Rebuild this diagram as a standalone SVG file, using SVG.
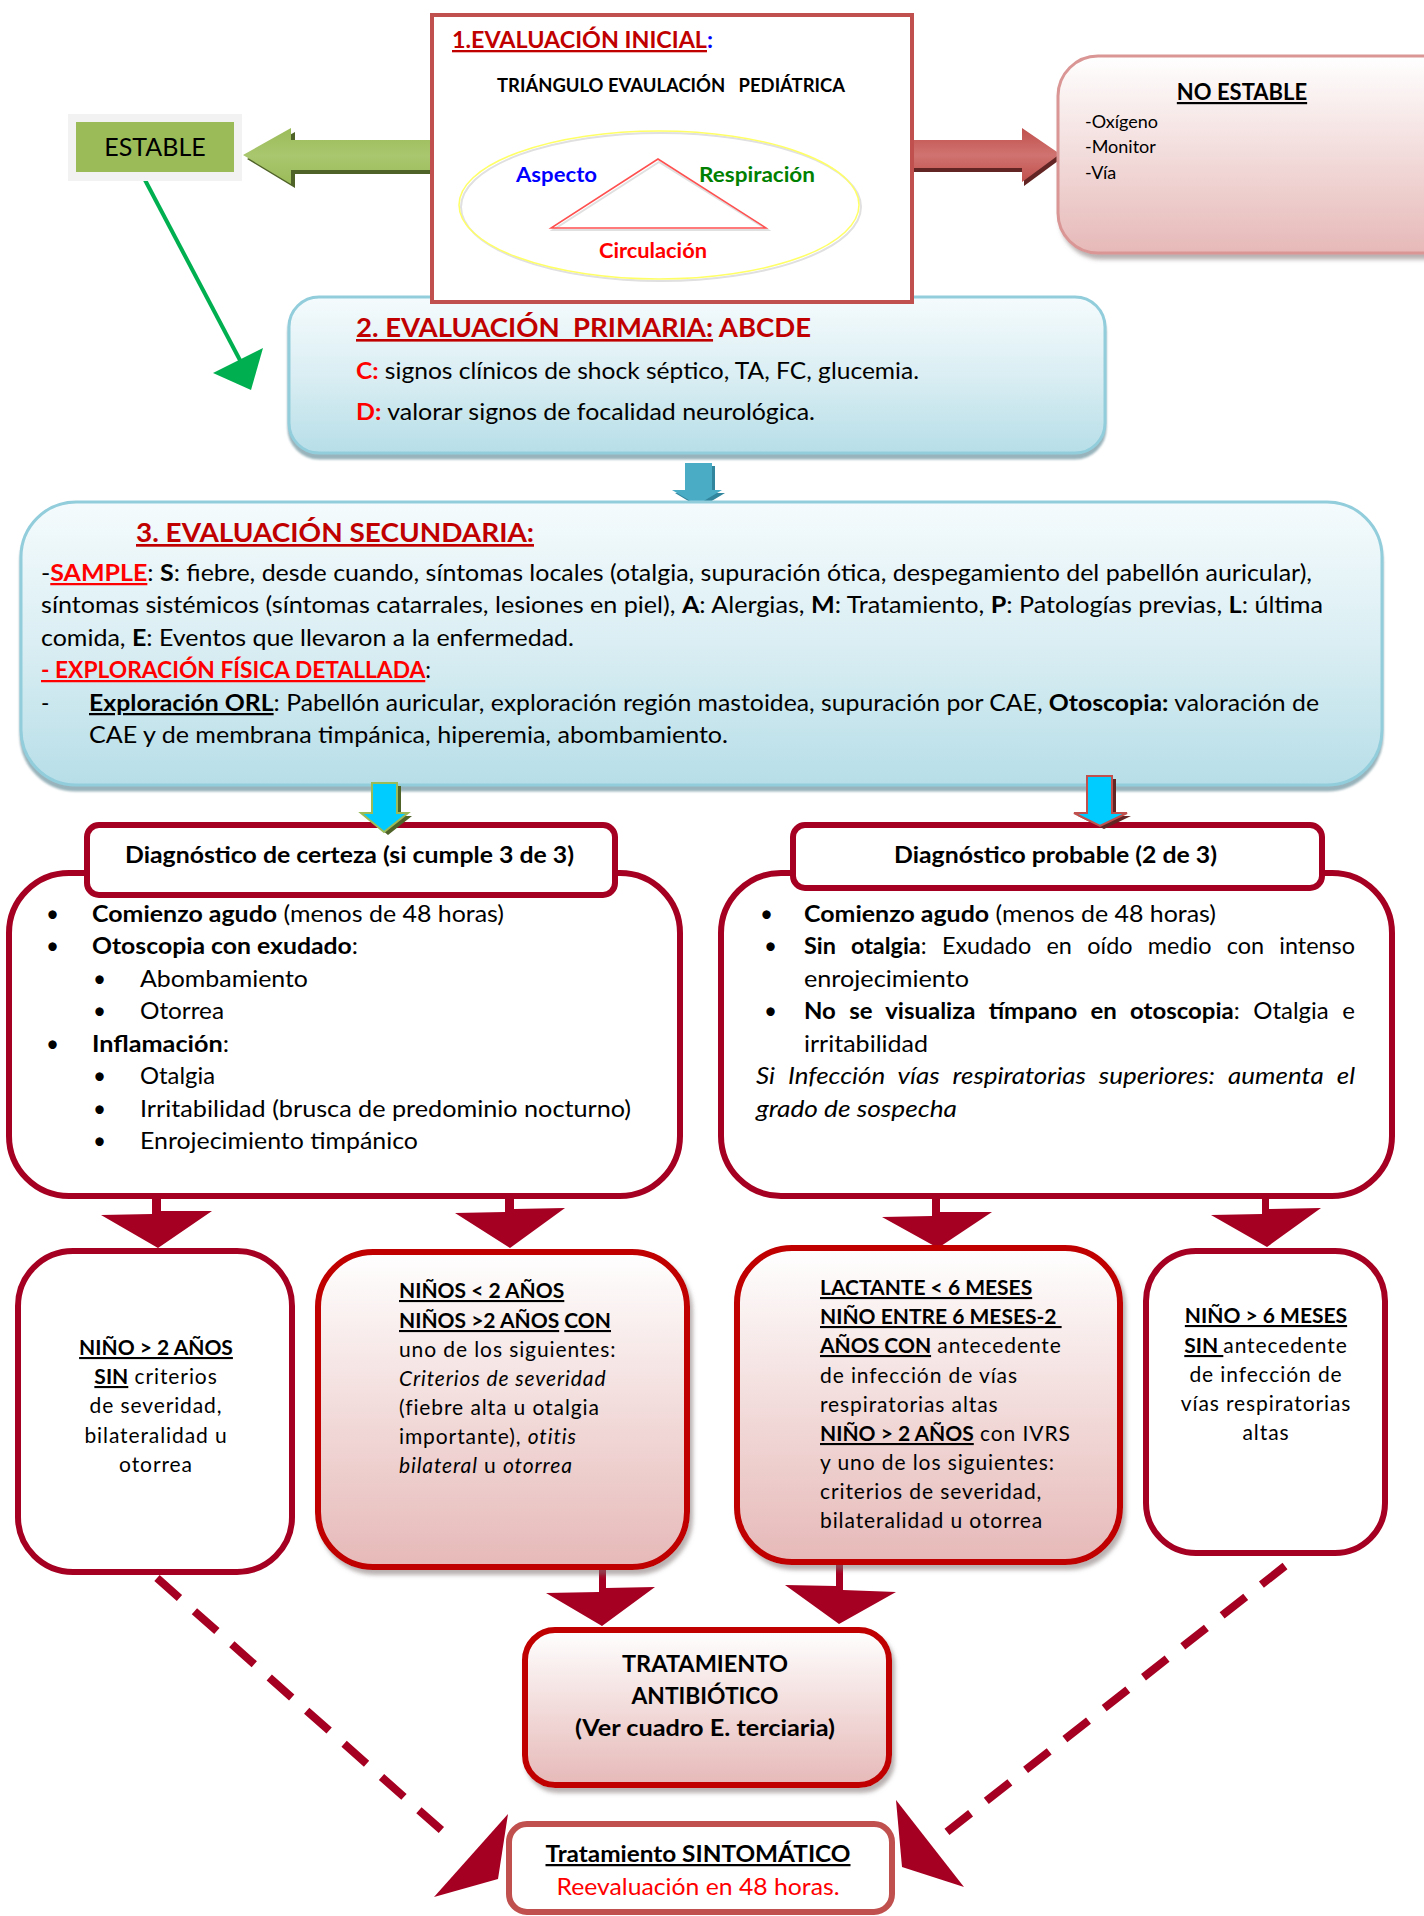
<svg xmlns="http://www.w3.org/2000/svg" width="1424" height="1916" viewBox="0 0 1424 1916">
<defs>
<style>
.t{font-family:Lato,'Liberation Sans',sans-serif;fill:#000}
.b{font-weight:bold}
.i{font-style:italic}
.u{text-decoration:underline}
.dr{fill:#C00000}
.rd{fill:#FF0000}
.f22{font-size:22.5px}
.f20{font-size:21px;letter-spacing:0.9px}
.f20 .b{letter-spacing:0}
.mid{text-anchor:middle}
.darr{fill:#A50021}
.wbox{fill:#FFFFFF;stroke:#A50021;stroke-width:6}
.pbox{fill:url(#pink);stroke:#C00000;stroke-width:6;filter:url(#sh)}
.bbox{fill:url(#blue);stroke:#92CDDC;stroke-width:3;filter:url(#shb)}
.dash{stroke:#A50021;stroke-width:8;stroke-dasharray:30 20;fill:none}
</style>
<linearGradient id="pink" x1="0" y1="0" x2="0" y2="1">
<stop offset="0" stop-color="#FFFFFF"/><stop offset="0.5" stop-color="#F2DCDB"/><stop offset="1" stop-color="#E6B9B8"/>
</linearGradient>
<linearGradient id="blue" x1="0" y1="0" x2="0" y2="1">
<stop offset="0" stop-color="#F5FBFD"/><stop offset="0.5" stop-color="#DAEEF3"/><stop offset="1" stop-color="#B7DEE8"/>
</linearGradient>
<linearGradient id="grn" x1="0" y1="0" x2="0" y2="1">
<stop offset="0" stop-color="#9BBB59"/><stop offset="0.5" stop-color="#A9C76E"/><stop offset="1" stop-color="#9BBB59"/>
</linearGradient>
<linearGradient id="redar" x1="0" y1="0" x2="0" y2="1">
<stop offset="0" stop-color="#C0504D"/><stop offset="0.5" stop-color="#D07370"/><stop offset="1" stop-color="#C0504D"/>
</linearGradient>
<filter id="sh" x="-10%" y="-10%" width="130%" height="130%">
<feDropShadow dx="3" dy="5" stdDeviation="2" flood-color="#7F6F6F" flood-opacity="0.55"/>
</filter>
<filter id="shb" x="-10%" y="-10%" width="130%" height="130%">
<feDropShadow dx="0" dy="5" stdDeviation="1" flood-color="#7FA0AA" flood-opacity="0.8"/>
</filter>
</defs>
<rect width="1424" height="1916" fill="#FFFFFF"/>

<!-- connectors -->
<g id="connectors">
  <polygon points="433,144 295,144 295,132 247,159 295,188 295,174 433,174" fill="#4F6228"/>
  <polygon points="433,140 291,140 291,128 243,155 291,184 291,170 433,170" fill="url(#grn)"/>
  <polygon points="911,144 1024,144 1024,132 1062,158 1024,186 1024,172 911,172" fill="#632523"/>
  <polygon points="911,140 1022,140 1022,128 1060,154 1022,182 1022,168 911,168" fill="url(#redar)"/>
  <line x1="145" y1="180" x2="242" y2="364" stroke="#00B050" stroke-width="4"/>
  <polygon points="213,373 263,348 251,390" fill="#00B050"/>
  <polygon points="688,466 715,466 715,493 725,493 700,508 675,493 688,493" fill="#31859C"/>
  <polygon points="685,463 712,463 712,490 722,490 697,505 672,490 685,490" fill="#4BACC6"/>
  <polygon class="darr" points="152,1196 161,1196 161,1211 212,1211 158,1248 101,1215 152,1214"/>
  <polygon class="darr" points="505,1196 514,1196 514,1209 565,1208 510,1248 455,1213 505,1212"/>
  <polygon class="darr" points="932,1196 940,1196 940,1212 992,1212 938,1248 882,1217 932,1216"/>
  <polygon class="darr" points="1262,1196 1269,1196 1269,1209 1321,1208 1267,1247 1211,1215 1262,1214"/>
  <polygon class="darr" points="599,1566 606,1566 606,1588 655,1587 602,1626 546,1593 599,1592"/>
  <polygon class="darr" points="836,1562 843,1562 843,1590 896,1592 839,1624 785,1585 836,1586"/>
  <line class="dash" x1="157" y1="1578" x2="456" y2="1843"/>
  <line class="dash" x1="1285" y1="1566" x2="934" y2="1842"/>
  <polygon class="darr" points="508,1814 498,1879 434,1897"/>
  <polygon class="darr" points="896,1800 902,1867 964,1887"/>
</g>

<g id="estable">
  <rect x="68" y="114" width="174" height="67" fill="#F2F2F2"/>
  <rect x="76" y="122" width="158" height="50" fill="#9BBB59"/>
  <text x="155" y="156" class="t mid" style="font-size:25px">ESTABLE</text>
</g>

<g id="no-estable">
  <rect x="1058" y="56" width="420" height="197" rx="40" fill="url(#pink)" stroke="#D99694" stroke-width="3" filter="url(#sh)"/>
  <text x="1242" y="100" class="t b u mid" style="font-size:22px">NO ESTABLE</text>
  <text x="1085" y="128" class="t" style="font-size:18px">-Oxígeno</text>
  <text x="1085" y="153" class="t" style="font-size:18px">-Monitor</text>
  <text x="1085" y="179" class="t" style="font-size:18px">-Vía</text>
</g>

<g id="evaluacion-primaria">
  <rect x="289" y="297" width="816" height="156" rx="30" class="bbox"/>
  <text x="356" y="337" class="t b dr" style="font-size:26px" textLength="455" lengthAdjust="spacingAndGlyphs" xml:space="preserve"><tspan class="u">2. EVALUACIÓN  PRIMARIA:</tspan> ABCDE</text>
  <text x="356" y="379" class="t f22" textLength="563" lengthAdjust="spacingAndGlyphs"><tspan class="b rd">C:</tspan> signos clínicos de shock séptico, TA, FC, glucemia.</text>
  <text x="356" y="420" class="t f22" textLength="459" lengthAdjust="spacingAndGlyphs"><tspan class="b rd">D:</tspan> valorar signos de focalidad neurológica.</text>
</g>

<g id="evaluacion-inicial">
  <rect x="432" y="15" width="480" height="287" fill="#FFFFFF" stroke="#C0504D" stroke-width="4"/>
  <text x="452" y="48" class="t b" style="font-size:23px" textLength="261" lengthAdjust="spacingAndGlyphs"><tspan class="u dr">1.EVALUACIÓN INICIAL</tspan><tspan style="fill:#0000FF">:</tspan></text>
  <text x="497" y="92" class="t b" style="font-size:18px" textLength="348" lengthAdjust="spacingAndGlyphs" xml:space="preserve">TRIÁNGULO EVAULACIÓN   PEDIÁTRICA</text>
  <ellipse cx="661" cy="207" rx="200" ry="74" fill="none" stroke="#E0E0E0" stroke-width="2"/>
  <ellipse cx="659" cy="205" rx="200" ry="74" fill="none" stroke="#FFFF66" stroke-width="1.5"/>
  <polygon points="659,162 553,230 768,230" fill="none" stroke="#E0E0E0" stroke-width="2"/>
  <polygon points="658,159 551,228 766,228" fill="none" stroke="#FF5050" stroke-width="1.5"/>
  <text x="516" y="182" class="t b" style="font-size:20.5px;fill:#0000FF" textLength="81" lengthAdjust="spacingAndGlyphs">Aspecto</text>
  <text x="699" y="182" class="t b" style="font-size:20.5px;fill:#008000" textLength="116" lengthAdjust="spacingAndGlyphs">Respiración</text>
  <text x="599" y="258" class="t b" style="font-size:20.5px;fill:#FF0000" textLength="108" lengthAdjust="spacingAndGlyphs">Circulación</text>
</g>

<g id="evaluacion-secundaria">
  <rect x="21" y="502" width="1361" height="283" rx="55" class="bbox"/>
  <text x="136" y="542" class="t b u dr" style="font-size:27px" textLength="398" lengthAdjust="spacingAndGlyphs">3. EVALUACIÓN SECUNDARIA:</text>
  <text x="41" y="581" class="t f22" textLength="1271" lengthAdjust="spacingAndGlyphs">-<tspan class="b u rd">SAMPLE</tspan>: <tspan class="b">S</tspan>: fiebre, desde cuando, síntomas locales (otalgia, supuración ótica, despegamiento del pabellón auricular),</text>
  <text x="41" y="613" class="t f22" textLength="1282" lengthAdjust="spacingAndGlyphs">síntomas sistémicos (síntomas catarrales, lesiones en piel), <tspan class="b">A</tspan>: Alergias, <tspan class="b">M</tspan>: Tratamiento, <tspan class="b">P</tspan>: Patologías previas, <tspan class="b">L</tspan>: última</text>
  <text x="41" y="646" class="t f22" textLength="533" lengthAdjust="spacingAndGlyphs">comida, <tspan class="b">E</tspan>: Eventos que llevaron a la enfermedad.</text>
  <text x="41" y="678" class="t f22" textLength="390" lengthAdjust="spacingAndGlyphs"><tspan class="b u rd">- EXPLORACIÓN FÍSICA DETALLADA</tspan>:</text>
  <text x="41" y="711" class="t f22">-</text>
  <text x="89" y="711" class="t f22" textLength="1230" lengthAdjust="spacingAndGlyphs"><tspan class="b u">Exploración ORL</tspan>: Pabellón auricular, exploración región mastoidea, supuración por CAE, <tspan class="b">Otoscopia:</tspan> valoración de</text>
  <text x="89" y="743" class="t f22" textLength="639" lengthAdjust="spacingAndGlyphs">CAE y de membrana timpánica, hiperemia, abombamiento.</text>
</g>

<g id="diagnostico-certeza">
  <rect x="9" y="873" width="671" height="323" rx="60" class="wbox"/>
  <rect x="87" y="825" width="528" height="70" rx="12" class="wbox"/>
  <text x="125" y="863" class="t b f22" textLength="449" lengthAdjust="spacingAndGlyphs">Diagnóstico de certeza (si cumple 3 de 3)</text>
  <g class="t f22">
    <text x="46" y="922">•</text><text x="92" y="922" textLength="412" lengthAdjust="spacingAndGlyphs"><tspan class="b">Comienzo agudo</tspan> (menos de 48 horas)</text>
    <text x="46" y="954">•</text><text x="92" y="954" textLength="266" lengthAdjust="spacingAndGlyphs"><tspan class="b">Otoscopia con exudado</tspan>:</text>
    <text x="93" y="987">•</text><text x="140" y="987" textLength="168" lengthAdjust="spacingAndGlyphs">Abombamiento</text>
    <text x="93" y="1019">•</text><text x="140" y="1019" textLength="84" lengthAdjust="spacingAndGlyphs">Otorrea</text>
    <text x="46" y="1052">•</text><text x="92" y="1052" textLength="137" lengthAdjust="spacingAndGlyphs"><tspan class="b">Inflamación</tspan>:</text>
    <text x="93" y="1084">•</text><text x="140" y="1084" textLength="75" lengthAdjust="spacingAndGlyphs">Otalgia</text>
    <text x="93" y="1117">•</text><text x="140" y="1117" textLength="491" lengthAdjust="spacingAndGlyphs">Irritabilidad (brusca de predominio nocturno)</text>
    <text x="93" y="1149">•</text><text x="140" y="1149" textLength="278" lengthAdjust="spacingAndGlyphs">Enrojecimiento timpánico</text>
  </g>
</g>

<g id="diagnostico-probable">
  <rect x="721" y="873" width="671" height="323" rx="60" class="wbox"/>
  <rect x="793" y="825" width="529" height="63" rx="12" class="wbox"/>
  <text x="894" y="863" class="t b f22" textLength="323" lengthAdjust="spacingAndGlyphs">Diagnóstico probable (2 de 3)</text>
  <g class="t f22">
    <text x="760" y="922">•</text><text x="804" y="922" textLength="412" lengthAdjust="spacingAndGlyphs"><tspan class="b">Comienzo agudo</tspan> (menos de 48 horas)</text>
    <text x="764" y="954">•</text><text x="804" y="954" style="word-spacing:9px" textLength="551" lengthAdjust="spacingAndGlyphs"><tspan class="b">Sin otalgia</tspan>: Exudado en oído medio con intenso</text>
    <text x="804" y="987" textLength="165" lengthAdjust="spacingAndGlyphs">enrojecimiento</text>
    <text x="764" y="1019">•</text><text x="804" y="1019" style="word-spacing:7px" textLength="551" lengthAdjust="spacingAndGlyphs"><tspan class="b">No se visualiza tímpano en otoscopia</tspan>: Otalgia e</text>
    <text x="804" y="1052" textLength="124" lengthAdjust="spacingAndGlyphs">irritabilidad</text>
    <text x="756" y="1084" class="i" style="word-spacing:6px" textLength="599" lengthAdjust="spacingAndGlyphs">Si Infección vías respiratorias superiores: aumenta el</text>
    <text x="756" y="1117" class="i" textLength="201" lengthAdjust="spacingAndGlyphs">grado de sospecha</text>
  </g>
</g>

<g id="nino-mayor-2-sin">
  <rect x="18" y="1251" width="274" height="321" rx="55" class="wbox"/>
  <g class="t f20 mid">
    <text x="156" y="1355" class="b u">NIÑO &gt; 2 AÑOS</text>
    <text x="156" y="1384"><tspan class="b u">SIN</tspan> criterios</text>
    <text x="156" y="1413">de severidad,</text>
    <text x="156" y="1443">bilateralidad u</text>
    <text x="156" y="1472">otorrea</text>
  </g>
</g>

<g id="ninos-menor-2">
  <rect x="318" y="1252" width="369" height="315" rx="55" class="pbox"/>
  <g class="t f20">
    <text x="399" y="1298" class="b u">NIÑOS &lt; 2 AÑOS</text>
    <text x="399" y="1328" class="b"><tspan class="u">NIÑOS &gt;2 AÑOS</tspan> <tspan class="u">CON</tspan></text>
    <text x="399" y="1357">uno de los siguientes:</text>
    <text x="399" y="1386" class="i">Criterios de severidad</text>
    <text x="399" y="1415">(fiebre alta u otalgia</text>
    <text x="399" y="1444">importante), <tspan class="i">otitis</tspan></text>
    <text x="399" y="1473"><tspan class="i">bilateral</tspan> u <tspan class="i">otorrea</tspan></text>
  </g>
</g>

<g id="lactante">
  <rect x="737" y="1248" width="383" height="314" rx="55" class="pbox"/>
  <g class="t f20">
    <text x="820" y="1295" class="b u">LACTANTE &lt; 6 MESES</text>
    <text x="820" y="1324" class="b u" xml:space="preserve">NIÑO ENTRE 6 MESES-2 </text>
    <text x="820" y="1353"><tspan class="b u">AÑOS CON</tspan> antecedente</text>
    <text x="820" y="1383">de infección de vías</text>
    <text x="820" y="1412">respiratorias altas</text>
    <text x="820" y="1441"><tspan class="b u">NIÑO &gt; 2 AÑOS</tspan> con IVRS</text>
    <text x="820" y="1470">y uno de los siguientes:</text>
    <text x="820" y="1499">criterios de severidad,</text>
    <text x="820" y="1528">bilateralidad u otorrea</text>
  </g>
</g>

<g id="nino-mayor-6">
  <rect x="1146" y="1251" width="239" height="302" rx="50" class="wbox"/>
  <g class="t f20 mid">
    <text x="1266" y="1323" class="b u">NIÑO &gt; 6 MESES</text>
    <text x="1266" y="1353" xml:space="preserve"><tspan class="b u">SIN </tspan>antecedente</text>
    <text x="1266" y="1382">de infección de</text>
    <text x="1266" y="1411">vías respiratorias</text>
    <text x="1266" y="1440">altas</text>
  </g>
</g>

<g id="tratamiento-antibiotico">
  <rect x="525" y="1630" width="364" height="155" rx="30" class="pbox"/>
  <g class="t b f22 mid">
    <text x="705" y="1672" textLength="166" lengthAdjust="spacingAndGlyphs">TRATAMIENTO</text>
    <text x="705" y="1704" textLength="147" lengthAdjust="spacingAndGlyphs">ANTIBIÓTICO</text>
    <text x="705" y="1736" textLength="260" lengthAdjust="spacingAndGlyphs">(Ver cuadro E. terciaria)</text>
  </g>
</g>

<g id="tratamiento-sintomatico">
  <rect x="509" y="1824" width="383" height="88" rx="18" fill="#FFFFFF" stroke="#C0504D" stroke-width="6"/>
  <text x="698" y="1862" class="t b u f22 mid" textLength="305" lengthAdjust="spacingAndGlyphs">Tratamiento SINTOMÁTICO</text>
  <text x="698" y="1895" class="t f22 mid" style="fill:#FF0000" textLength="283" lengthAdjust="spacingAndGlyphs">Reevaluación en 48 horas.</text>
</g>

<g id="flechas-diagnostico">
  <polygon points="376,786 401,786 401,816 412,816 388,835 365,816 376,816" fill="#4F6228"/>
  <polygon points="372,783 397,783 397,813 408,813 384,832 361,813 372,813" fill="#00CCFF" stroke="#9BBB59" stroke-width="2"/>
  <polygon points="1091,779 1116,779 1116,816 1131,816 1104,829 1078,816 1091,816" fill="#632523"/>
  <polygon points="1087,776 1112,776 1112,813 1127,813 1100,826 1074,813 1087,813" fill="#00CCFF" stroke="#C0504D" stroke-width="2"/>
</g>
</svg>
